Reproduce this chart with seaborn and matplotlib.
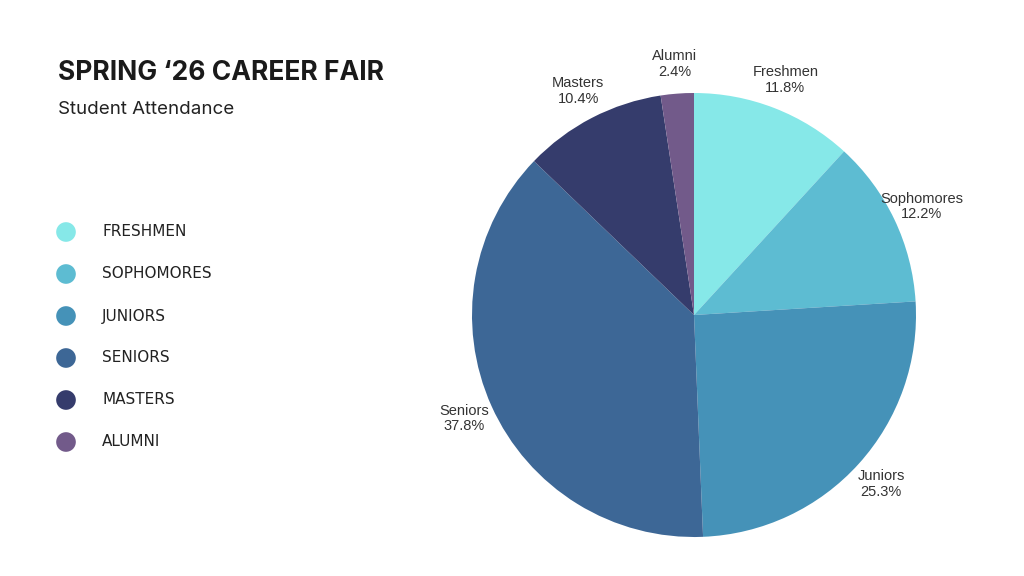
import matplotlib
matplotlib.use("Agg")
import matplotlib.pyplot as plt
from matplotlib import font_manager
import seaborn as sns

# data
groups = ["Freshmen", "Sophomores", "Juniors", "Seniors", "Masters", "Alumni"]
shares = [11.8, 12.2, 25.3, 37.8, 10.4, 2.4]
colors = ["#86E8E8", "#5DBCD2", "#4592B8", "#3D6796", "#353C6C", "#725A8A"]
title = "SPRING \u201826 CAREER FAIR"
subtitle = "Student Attendance"

sns.set_theme(style="white")
plt.rcParams['font.family'] = ['Roboto', 'DejaVu Sans']

# find the regular Liberation Sans file (not the Narrow one)
lab_font = None
for f in font_manager.findSystemFonts():
    if f.endswith("LiberationSans-Regular.ttf"):
        lab_font = font_manager.FontProperties(fname=f)
        break
if lab_font is None:
    lab_font = font_manager.FontProperties(family="Roboto")

W, H = 1024, 576
fig = plt.figure(figsize=(W / 100, H / 100), dpi=100)
fig.patch.set_facecolor("white")

# pie axes, centre ~(694,315), radius ~222 px
cx, cy, r = 694, 315, 222
ax = fig.add_axes([(cx - r) / W, (H - cy - r) / H, 2 * r / W, 2 * r / H])
labels = [f"{g}\n{s}%" for g, s in zip(groups, shares)]
wedges, texts = ax.pie(shares, colors=colors, startangle=90, counterclock=False,
                       labels=labels, labeldistance=1.135,
                       wedgeprops=dict(linewidth=0))
for t in texts:
    t.set_fontproperties(lab_font)
    t.set_fontsize(10.5)
    t.set_color("#333333")
    t.set_ha("center")
    t.set_va("center")
    t.set_linespacing(1.15)
ax.set_aspect("equal")
ax.set_xlim(-1, 1)
ax.set_ylim(-1, 1)
ax.axis("off")

# title block
fig.text(58 / W, 1 - 73 / H, title, fontsize=19, fontweight="bold",
         family=["Inter", "DejaVu Sans"], color="#1a1a1a", va="center", ha="left")
fig.text(58 / W, 1 - 109 / H, subtitle, fontsize=13.5,
         family=["Inter", "DejaVu Sans"], color="#222222", va="center", ha="left")

# legend drawn on an overlay axes in pixel coordinates
lax = fig.add_axes([0, 0, 1, 1], zorder=-1)
lax.set_xlim(0, W)
lax.set_ylim(H, 0)
lax.axis("off")
for i, (g, c) in enumerate(zip(groups, colors)):
    y = 232 + i * 42
    lax.scatter([66], [y], s=200, color=c, edgecolor="none")
    lax.text(102, y, g.upper(), fontsize=11, color="#222222", va="center",
             ha="left", family=["DejaVu Sans"])

fig.savefig("out.png", dpi=100, facecolor="white")
